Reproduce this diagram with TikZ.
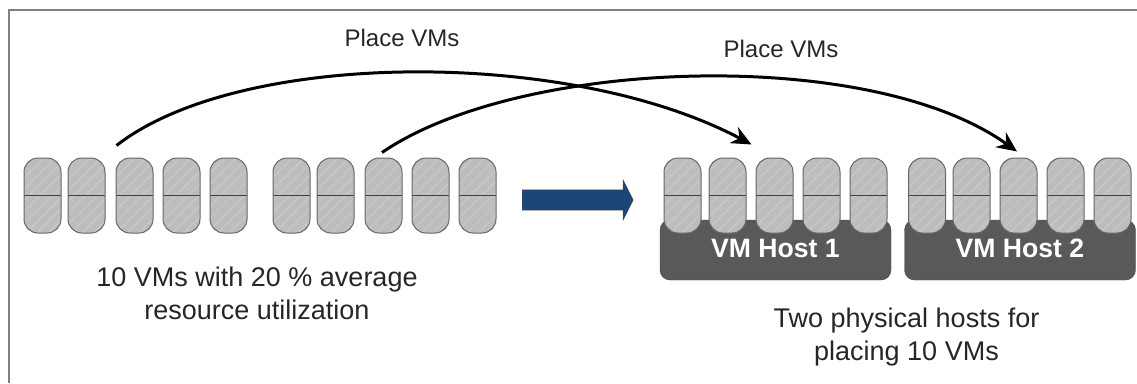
\documentclass[tikz,border=0pt]{standalone}
\usepackage{fontspec}
\setmainfont{Liberation Sans}
\usetikzlibrary{arrows.meta,patterns.meta,shapes.arrows}
\definecolor{vmgray}{HTML}{BDBDBD}
\definecolor{vmhatch}{HTML}{CACACA}
\definecolor{hostgray}{HTML}{595959}
\definecolor{shiftblue}{HTML}{1C4678}
\def\vmrow{195.5}
\def\hostrow{250}

\begin{document}
\begin{tikzpicture}[x=1pt, y=-1pt]
        \tikzstyle{vm}=[draw=black!60, line width=1pt, rounded corners=14pt, minimum width=37pt, minimum height=75pt, inner sep=0pt,
            preaction={fill=vmgray}, pattern={Lines[angle=45,distance=8pt,line width=1pt]}, pattern color=vmhatch,
            path picture={\draw[black!75, line width=1.2pt] (path picture bounding box.west) -- (path picture bounding box.east);}]
        \tikzstyle{host}=[draw=black!70, fill=hostgray, rounded corners=10pt, minimum width=231pt, minimum height=60pt, inner sep=0pt,
            text=white, text depth=4pt, font=\fontsize{26.6}{30}\selectfont\bfseries]
        \tikzstyle{place}=[->, >={Stealth[length=20pt,width=18pt]}, line width=3pt]
        \tikzstyle{annot}=[align=center, text=black!85, font=\fontsize{27}{33}\selectfont]
        \tikzstyle{plabel}=[text=black!85, font=\fontsize{24}{28}\selectfont]

        \useasboundingbox (0,0) rectangle (1137,383);
        \draw[black!50, line width=1.5pt] (1137,10) -- (9,10) -- (9,383);

        \node[vm] (A-1) at (42.5,\vmrow) {};
        \node[vm] (A-2) at (86.5,\vmrow) {};
        \node[vm] (A-3) at (134.5,\vmrow) {};
        \node[vm] (A-4) at (181.5,\vmrow) {};
        \node[vm] (A-5) at (228.5,\vmrow) {};

        \node[vm] (B-1) at (291.5,\vmrow) {};
        \node[vm] (B-2) at (335.5,\vmrow) {};
        \node[vm] (B-3) at (383.5,\vmrow) {};
        \node[vm] (B-4) at (430.5,\vmrow) {};
        \node[vm] (B-5) at (477.5,\vmrow) {};

        \node[single arrow, draw=black!70, fill=shiftblue, minimum width=40pt, minimum height=111pt, inner xsep=0pt, inner ysep=10pt,
            single arrow head extend=10pt, single arrow tip angle=127, anchor=west] (shift) at (522,200) {};

        \node[host] (H-1) at (775.5,\hostrow) {VM Host 1};
        \node[host] (H-2) at (1020,\hostrow) {VM Host 2};

        \node[vm] (P-1) at (682.5,\vmrow) {};
        \node[vm] (P-2) at (727.5,\vmrow) {};
        \node[vm] (P-3) at (774.5,\vmrow) {};
        \node[vm] (P-4) at (821.5,\vmrow) {};
        \node[vm] (P-5) at (868.5,\vmrow) {};

        \node[vm] (Q-1) at (927,\vmrow) {};
        \node[vm] (Q-2) at (971.5,\vmrow) {};
        \node[vm] (Q-3) at (1018.5,\vmrow) {};
        \node[vm] (Q-4) at (1065.5,\vmrow) {};
        \node[vm] (Q-5) at (1112.5,\vmrow) {};

        \draw[place] ([xshift=1pt,yshift=12pt]A-3.north west) .. controls (240,49) and (570,48) .. ([xshift=-4pt,yshift=13pt]P-3.north west);
        \draw[place] ([xshift=-1.5pt,yshift=5pt]B-3.north) .. controls (520,58) and (870,46) .. ([xshift=-1.5pt,yshift=6pt]Q-3.north);

        \node[plabel] (place-1) at (402,38) {Place VMs};
        \node[plabel] (place-2) at (781,49) {Place VMs};
        \node[annot] (source) at (257,293) {10 VMs with 20 \% average\\resource utilization};
        \node[annot] (target) at (906.5,337) {Two physical hosts for\\placing 10 VMs};
\end{tikzpicture}
\end{document}
